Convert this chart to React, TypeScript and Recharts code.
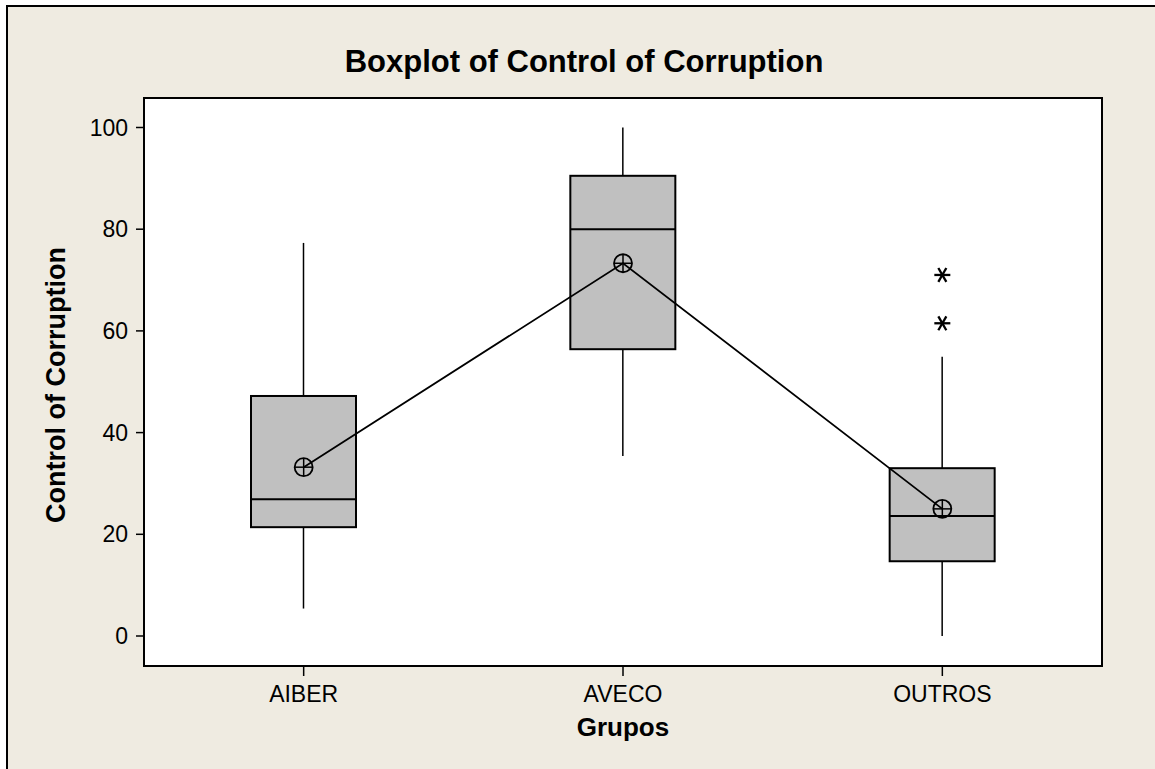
import React from 'react';
import { ComposedChart, Bar, Line, Scatter, XAxis, YAxis, Label } from 'recharts';

const groups = ['AIBER', 'AVECO', 'OUTROS'];
const whiskerLow = [5.4, 35.4, 0];
const q1 = [21.4, 56.4, 14.7];
const median = [26.9, 80.0, 23.6];
const q3 = [47.2, 90.5, 33.0];
const whiskerHigh = [77.3, 100.0, 54.9];
const means = [33.2, 73.3, 25.0];

const outlierGroups = ['OUTROS', 'OUTROS'];
const outlierValues = [71.0, 61.5];

const yTicks = [0, 20, 40, 60, 80, 100];

const data = groups.map((name, i) => ({
  name,
  box: [q1[i], q3[i]],
  min: whiskerLow[i],
  q1: q1[i],
  median: median[i],
  q3: q3[i],
  max: whiskerHigh[i],
  mean: means[i],
}));

const outliers = outlierGroups.map((name, i) => ({ name, value: outlierValues[i] }));

const FONT = "'Liberation Sans', Arial, sans-serif";
const BG = '#EFEBE1';

// plot frame (matches margins below)
const PLOT = { x: 144, y: 98, w: 958, h: 568 };

const BoxShape = (props: any) => {
  const { x, y, width, height, payload } = props;
  if (height == null || !payload) return <g />;
  const ppu = height / (payload.q3 - payload.q1);
  const yOf = (v: number) => y + (payload.q3 - v) * ppu;
  const cx = x + width / 2;
  return (
    <g>
      <line x1={cx} x2={cx} y1={yOf(payload.max)} y2={y} stroke="#000" strokeWidth={1.5} />
      <line x1={cx} x2={cx} y1={y + height} y2={yOf(payload.min)} stroke="#000" strokeWidth={1.5} />
      <rect x={x} y={y} width={width} height={height} fill="#C0C0C0" stroke="#000" strokeWidth={2} />
      <line x1={x} x2={x + width} y1={yOf(payload.median)} y2={yOf(payload.median)} stroke="#000" strokeWidth={2} />
    </g>
  );
};

const MeanDot = (props: any) => {
  const { cx, cy, index } = props;
  if (cx == null || cy == null) return <g key={index} />;
  const r = 9;
  return (
    <g key={index}>
      <circle cx={cx} cy={cy} r={r} fill="none" stroke="#000" strokeWidth={1.8} />
      <line x1={cx - r} x2={cx + r} y1={cy} y2={cy} stroke="#000" strokeWidth={1.5} />
      <line x1={cx} x2={cx} y1={cy - r} y2={cy + r} stroke="#000" strokeWidth={1.5} />
    </g>
  );
};

const Star = (props: any) => {
  const { cx, cy } = props;
  if (cx == null || cy == null) return <g />;
  const s = 8;
  const dx = s * 0.5;
  const dy = s * 0.87;
  return (
    <g>
      <line x1={cx - s} x2={cx + s} y1={cy} y2={cy} stroke="#000" strokeWidth={2.3} />
      <line x1={cx - dx} x2={cx + dx} y1={cy - dy} y2={cy + dy} stroke="#000" strokeWidth={2.3} />
      <line x1={cx - dx} x2={cx + dx} y1={cy + dy} y2={cy - dy} stroke="#000" strokeWidth={2.3} />
    </g>
  );
};

const axisLine = { stroke: '#000', strokeWidth: 2 };
const tickLine = { stroke: '#000', strokeWidth: 1.5 };
const tickStyle = { fontSize: 23, fill: '#000', fontFamily: FONT };
const domain: [number, number] = [-5.9, 105.8];

export default function App() {
  return (
    <div style={{ position: 'absolute', left: 0, top: 0, width: 1155, height: 769, background: '#fff', overflow: 'hidden' }}>
      <div
        style={{
          position: 'absolute',
          left: 6,
          top: 5,
          width: 1200,
          height: 800,
          background: BG,
          borderTop: '2px solid #000',
          borderLeft: '2px solid #000',
        }}
      />
      <div style={{ position: 'absolute', left: 0, top: 0 }}>
        <ComposedChart width={1155} height={769} data={data} margin={{ top: 98, right: 53, bottom: 33, left: 0 }}>
          <rect x={PLOT.x} y={PLOT.y} width={PLOT.w} height={PLOT.h} fill="#fff" stroke="#000" strokeWidth={2} />
          <text x={584} y={72} textAnchor="middle" fill="#000" fontSize={31} fontWeight="bold" fontFamily={FONT}>
            Boxplot of Control of Corruption
          </text>
          <XAxis
            xAxisId="main"
            dataKey="name"
            allowDuplicatedCategory={false}
            height={70}
            tickSize={10}
            tickMargin={10}
            tick={tickStyle}
            tickLine={tickLine}
            axisLine={axisLine}
          >
            <Label value="Grupos" position="insideTop" offset={52} fill="#000" fontSize={26} fontWeight="bold" fontFamily={FONT} />
          </XAxis>
          <YAxis
            yAxisId="main"
            type="number"
            domain={domain}
            ticks={yTicks}
            allowDataOverflow
            width={144}
            tickSize={8}
            tickMargin={8}
            tick={tickStyle}
            tickLine={tickLine}
            axisLine={axisLine}
          >
            <Label value="Control of Corruption" position="center" angle={-90} dx={-16.6} dy={3} fill="#000" fontSize={27} fontWeight="bold" fontFamily={FONT} />
          </YAxis>
          <Bar xAxisId="main" yAxisId="main" dataKey="box" barSize={105} shape={BoxShape} isAnimationActive={false} />
          <Line
            xAxisId="main"
            yAxisId="main"
            type="linear"
            dataKey="mean"
            stroke="#000"
            strokeWidth={1.8}
            dot={MeanDot}
            activeDot={false}
            isAnimationActive={false}
          />
          <Scatter xAxisId="main" yAxisId="main" data={outliers} dataKey="value" shape={Star} isAnimationActive={false} />
        </ComposedChart>
      </div>
    </div>
  );
}
